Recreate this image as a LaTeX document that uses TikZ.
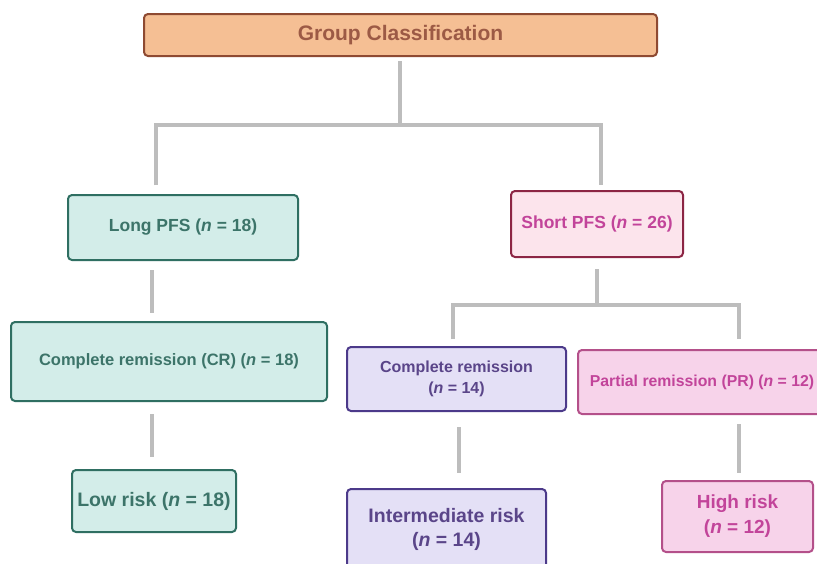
\documentclass[tikz,border=0pt]{standalone}
\usepackage{fontspec}
\setmainfont{Liberation Sans}
\definecolor{gcfill}{HTML}{F5BF94}
\definecolor{gcdraw}{HTML}{8E4A32}
\definecolor{gctext}{HTML}{9C5A45}
\definecolor{tlfill}{HTML}{D3EDE9}
\definecolor{tldraw}{HTML}{2F6F62}
\definecolor{tltext}{HTML}{3C7469}
\definecolor{shfill}{HTML}{FCE4EC}
\definecolor{shdraw}{HTML}{8C2544}
\definecolor{pktext}{HTML}{C2449A}
\definecolor{lvfill}{HTML}{E4E0F6}
\definecolor{lvdraw}{HTML}{4C3A8A}
\definecolor{lvtext}{HTML}{5A4589}
\definecolor{pkfill}{HTML}{F7D3EA}
\definecolor{pkdraw}{HTML}{B4508A}
\definecolor{conncol}{HTML}{BDBDBD}
\newcommand{\nn}{\textit{n}}
\begin{document}
\begin{tikzpicture}[x=1pt,y=-1pt,
  box/.style={rectangle, rounded corners=4pt, line width=2pt, align=center, inner sep=0pt, font=\bfseries},
  gcbox/.style={box, fill=gcfill, draw=gcdraw, text=gctext},
  tlbox/.style={box, fill=tlfill, draw=tldraw, text=tltext},
  shbox/.style={box, fill=shfill, draw=shdraw, text=pktext},
  lvbox/.style={box, fill=lvfill, draw=lvdraw, text=lvtext},
  pkbox/.style={box, fill=pkfill, draw=pkdraw, text=pktext},
  conn/.style={draw=conncol, line width=3.5pt}
]
\useasboundingbox (0,0) rectangle (817,563);
\clip (0,0) rectangle (817,563);
\fill[white] (0,0) rectangle (817,563);

\node[gcbox, minimum width=513pt, minimum height=42pt, font=\bfseries\fontsize{21}{24}\selectfont] (gc) at (400.5,35) {Group Classification};

\node[tlbox, minimum width=230pt, minimum height=65pt, font=\bfseries\fontsize{17.5}{20}\selectfont] (long) at (183,227.5) {Long PFS (\nn{} = 18)};
\node[shbox, minimum width=172pt, minimum height=66pt, font=\bfseries\fontsize{17.5}{20}\selectfont] (short) at (597,224) {Short PFS (\nn{} = 26)};

\node[tlbox, minimum width=316pt, minimum height=79pt, font=\bfseries\fontsize{16.5}{20}\selectfont] (cr) at (169,361.5) {Complete remission (CR) (\nn{} = 18)};
\node[lvbox, minimum width=219pt, minimum height=64pt, font=\bfseries\fontsize{16}{20.5}\selectfont] (cr14) at (456.5,379) {Complete remission\\(\nn{} = 14)};
\node[pkbox, minimum width=248pt, minimum height=64pt, font=\bfseries\fontsize{15.8}{20}\selectfont] (pr) at (702,382) {Partial remission (PR) (\nn{} = 12)};

\node[tlbox, minimum width=164pt, minimum height=62pt, font=\bfseries\fontsize{19.5}{23}\selectfont] (low) at (154,501) {Low risk (\nn{} = 18)};
\node[lvbox, minimum width=199pt, minimum height=80pt, font=\bfseries\fontsize{19.5}{24}\selectfont] (inter) at (446.5,529) {Intermediate risk\\(\nn{} = 14)};
\node[pkbox, minimum width=151pt, minimum height=71pt, font=\bfseries\fontsize{19}{25}\selectfont] (high) at (737.5,516.5) {High risk\\(\nn{} = 12)};

\coordinate (b1) at (400,125);
\coordinate (b1l) at (156,125);
\coordinate (b1r) at (601,125);
\coordinate (b2) at (597,305);
\coordinate (b2l) at (453,305);
\coordinate (b2r) at (739,305);
\coordinate (v1) at (152,0);
\coordinate (v2) at (459,0);

\draw[conn, shorten <=4pt] (gc.south -| b1) -- (b1);
\draw[conn, shorten <=9pt, shorten >=5pt] (long.north -| b1l) -- (b1l) -- (b1r) -- (short.north -| b1r);
\draw[conn, shorten <=11pt] (short.south -| b2) -- (b2);
\draw[conn, shorten <=7pt, shorten >=10pt] (cr14.north -| b2l) -- (b2l) -- (b2r) -- (pr.north -| b2r);
\draw[conn, shorten <=9pt, shorten >=8pt] (long.south -| v1) -- (cr.north -| v1);
\draw[conn, shorten <=12pt, shorten >=12pt] (cr.south -| v1) -- (low.north -| v1);
\draw[conn, shorten <=15pt, shorten >=15pt] (cr14.south -| v2) -- (inter.north -| v2);
\draw[conn, shorten <=9pt, shorten >=7pt] (pr.south -| b2r) -- (high.north -| b2r);
\end{tikzpicture}
\end{document}
